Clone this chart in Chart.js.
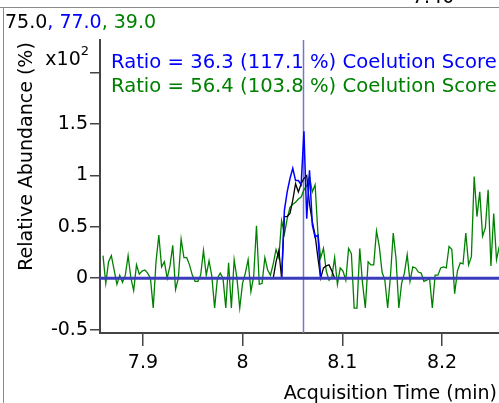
<!DOCTYPE html>
<html>
<head>
<meta charset="utf-8">
<script src="https://cdn.jsdelivr.net/npm/chart.js@4.4.1/dist/chart.umd.min.js"></script>
<style>
body{margin:0;background:#fff;}
canvas{display:block;}
</style>
</head>
<body>
<canvas id="myChart" width="499" height="403"></canvas>
<script>
// scan grid (min)
var scanStart=7.8599;
var scanStep=0.0028;

// 39.0 qualifier, whole window (x10^2 %)
var greenValues=[0.22,-0.05,0.16,0.22,0.08,-0.06,0.03,-0.04,0.03,0.22,
	0.0,-0.12,0.13,0.04,0.07,0.08,0.05,0.0,-0.29,0.16,
	0.42,0.11,0.16,0.0,0.12,0.32,-0.11,0.0,0.38,0.2,
	0.2,0.13,0.03,-0.03,-0.03,0.03,0.27,0.03,0.17,0.02,
	-0.29,0.0,0.05,0.0,-0.29,0.15,-0.29,0.18,0.0,-0.29,
	-0.05,0.05,0.18,-0.13,0.02,0.51,-0.06,-0.05,0.2,0.08,
	0.03,0.14,0.28,0.2,0.56,0.43,0.58,0.69,0.72,0.74,
	0.77,0.79,0.86,0.9,0.99,0.84,0.91,0.44,0.2,0.29,
	0.07,-0.02,0.01,0.2,-0.06,0.1,0.07,-0.02,0.29,0.24,
	-0.29,-0.29,0.29,-0.05,-0.29,0.16,0.13,0.13,0.46,0.31,
	0.06,-0.02,-0.29,0.02,0.44,0.19,-0.29,-0.05,0.05,0.23,
	-0.03,0.11,0.1,0.06,0.05,-0.03,-0.02,0.0,-0.29,0.03,
	0.03,0.1,0.11,0.1,0.31,0.28,-0.15,0.07,0.15,0.14,
	0.44,0.13,0.21,0.99,0.6,0.84,0.41,0.49,0.86,0.12,
	0.63,0.18,0.31];

// 75.0 target, peak region only
var blackStart=61;
var blackValues=[0,0.16,0.27,0,0.6,0.6,0.63,0.76,0.92,0.84,0.92,0.97,1.0,0.72,0.55,0.42,0.2,0,0.1,0.12,0.13,0.07,0];

// 77.0 qualifier, peak region only
var blueStart=64;
var blueValues=[0,0.66,0.84,0.97,1.07,0.95,0.95,0.91,1.43,0.58,1.05,0.52,0.4,0.42,0];

var xTicks=[7.9,8,8.1,8.2];
var yTicks=[-0.5,0,0.5,1,1.5,2];
var xRange=[7.8569,8.2572];
var yRange=[-0.533,2.318];
var retentionTime=8.0602;

var titleParts=[["75.0","#000000"],[", ","#0000ff"],["77.0","#0000ff"],[", ","#008000"],["39.0","#008000"]];
var ratioLines=[["Ratio = 36.3 (117.1 %) Coelution Score","#0000ff"],["Ratio = 56.4 (103.8 %) Coelution Score","#008000"]];

function toPoints(start,vals){
	return vals.map(function(v,i){return {x:scanStart+(start+i)*scanStep,y:v};});
}

Chart.defaults.font.family='"DejaVu Sans", Verdana, sans-serif';
Chart.defaults.font.size=19;
Chart.defaults.color='#000';

var FONT='19px "DejaVu Sans", Verdana, sans-serif';

var texts={
	id:'texts',
	beforeDatasetsDraw:function(chart){
		var ctx=chart.ctx, a=chart.chartArea;
		var x=Math.round(chart.scales.x.getPixelForValue(retentionTime))+0.5;
		ctx.save();
		ctx.strokeStyle='#7474d4';
		ctx.lineWidth=1.5;
		ctx.beginPath();
		ctx.moveTo(x,a.top);
		ctx.lineTo(x,a.bottom);
		ctx.stroke();
		ctx.restore();
	},
	afterDraw:function(chart){
		var ctx=chart.ctx;
		ctx.save();
		// frame of the report cell
		ctx.strokeStyle='#8a8a8a';
		ctx.lineWidth=1;
		ctx.beginPath();
		ctx.moveTo(0,7.5);ctx.lineTo(499,7.5);
		ctx.moveTo(3.5,7.5);ctx.lineTo(3.5,403);
		ctx.stroke();

		ctx.font=FONT;
		ctx.textBaseline='alphabetic';
		ctx.fillStyle='#000';
		ctx.fillText('7.40',412,3);

		var x=5;
		titleParts.forEach(function(p){
			ctx.fillStyle=p[1];
			ctx.fillText(p[0],x,28);
			x+=ctx.measureText(p[0]).width;
		});

		ctx.font='19.6px "DejaVu Sans", Verdana, sans-serif';
		ratioLines.forEach(function(l,i){
			ctx.fillStyle=l[1];
			ctx.fillText(l[0],111,67.5+i*24);
		});

		// exponent label
		ctx.fillStyle='#000';
		ctx.textAlign='right';
		ctx.font='13px "DejaVu Sans", Verdana, sans-serif';
		ctx.fillText('2',89,55);
		var w=ctx.measureText('2').width;
		ctx.font=FONT;
		ctx.fillText('x10',89-w,65);

		ctx.fillText('Acquisition Time (min)',497,399);

		ctx.translate(32,156.5);
		ctx.rotate(-Math.PI/2);
		ctx.textAlign='center';
		ctx.fillText('Relative Abundance (%)',0,0);
		ctx.restore();
	}
};

var myChart=document.getElementById("myChart").getContext('2d');

var chart=new Chart(myChart,{
	type:'line',
	data:{
		datasets:[
		{
			label:'baseline',
			data:[{x:xRange[0],y:0},{x:xRange[1],y:0}],
			borderColor:'#3b3bbd',
			borderWidth:3
		},
		{
			label:'77.0',
			data:toPoints(blueStart,blueValues),
			borderColor:'#0000ff',
			borderWidth:1.5
		},
		{
			label:'75.0',
			data:toPoints(blackStart,blackValues),
			borderColor:'#000000',
			borderWidth:1.3
		},
		{
			label:'39.0',
			data:toPoints(0,greenValues),
			borderColor:'#008000',
			borderWidth:1.3
		}
		]
	},
	options:{
		responsive:false,
		animation:false,
		layout:{padding:{top:40,right:0,bottom:0,left:0}},
		elements:{point:{radius:0},line:{tension:0}},
		plugins:{legend:{display:false},tooltip:{enabled:false}},
		scales:{
			x:{
				type:'linear',
				min:xRange[0],
				max:xRange[1],
				afterFit:function(s){s.height=70;},
				afterBuildTicks:function(s){s.ticks=xTicks.map(function(v){return {value:v};});},
				grid:{drawOnChartArea:false,drawTicks:true,tickLength:13,color:'#444',lineWidth:1.5},
				border:{display:true,color:'#444',width:2},
				ticks:{padding:6,maxRotation:0,autoSkip:false,callback:function(v){return String(v);}}
			},
			y:{
				type:'linear',
				min:yRange[0],
				max:yRange[1],
				afterFit:function(s){s.width=100;},
				afterBuildTicks:function(s){s.ticks=yTicks.map(function(v){return {value:v};});},
				grid:{drawOnChartArea:false,drawTicks:true,tickLength:10,color:'#444',lineWidth:1.5},
				border:{display:true,color:'#444',width:2},
				ticks:{padding:2,autoSkip:false,callback:function(v){return v===2?'':String(v);}}
			}
		}
	},
	plugins:[texts]
});
</script>
</body>
</html>
